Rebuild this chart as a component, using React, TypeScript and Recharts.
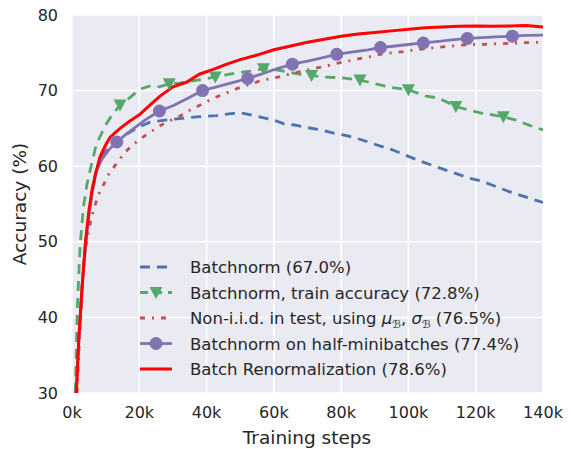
import React from 'react';
import { LineChart, Line, XAxis, YAxis, CartesianGrid, Legend } from 'recharts';

const xTicks = [0, 20, 40, 60, 80, 100, 120, 140];
const yTicks = [30, 40, 50, 60, 70, 80];

// Batch Renormalization (red solid)
const renormX = [1.3, 2, 3, 4, 5, 6, 7, 8.3, 10, 11.3, 13, 14.3, 17, 20, 23, 26, 30, 34, 38, 42, 46, 50, 55, 60, 65, 70, 75, 80, 85, 90, 95, 100, 105, 110, 115, 120, 125, 130, 135, 140];
const renormY = [30, 37, 44, 50, 54, 57, 59, 61.2, 62.8, 63.8, 64.5, 65, 65.9, 66.8, 68, 69.2, 70.5, 71.1, 72.2, 72.8, 73.5, 74.1, 74.7, 75.4, 75.9, 76.4, 76.8, 77.2, 77.5, 77.7, 77.9, 78.1, 78.3, 78.4, 78.5, 78.55, 78.5, 78.55, 78.6, 78.4];

// Batchnorm on half-minibatches (purple, circles)
const halfX = [1.2, 2, 3, 4, 5, 6, 7.3, 9, 11, 13.3, 16, 19, 22, 26, 30, 34, 38.8, 43, 48, 52.2, 57, 61, 65.5, 70, 74, 78.7, 83, 88, 91.7, 96, 100, 104.4, 109, 113, 117.5, 122, 126, 130.9, 135, 140];
const halfY = [30, 37, 44, 49.5, 53.5, 56.5, 59.5, 61, 62.2, 63.2, 64.2, 65.2, 66.2, 67.3, 68, 68.9, 70, 70.5, 71.1, 71.6, 72.3, 72.9, 73.5, 73.9, 74.3, 74.8, 75.1, 75.4, 75.7, 75.9, 76.1, 76.3, 76.5, 76.7, 76.9, 77.0, 77.1, 77.2, 77.3, 77.35];
const halfMarkers = [13.3, 26, 38.8, 52.2, 65.5, 78.7, 91.7, 104.4, 117.5, 130.9];

// Batchnorm (blue dashed)
const bnX = [1.2, 2, 3, 4, 5, 6, 7.3, 9, 11, 13.3, 16, 20, 23, 26, 30, 34, 38, 43, 48, 51, 54, 57, 60, 63, 66, 70, 74, 78, 82, 86, 90, 95, 100, 104, 108.4, 113, 118.3, 122, 126, 130.2, 135, 140];
const bnY = [30, 37, 44, 49.5, 53.5, 56.5, 59.5, 61.3, 62.5, 63.4, 64.2, 65.2, 65.8, 66.0, 66.2, 66.4, 66.55, 66.7, 67.0, 67.0, 66.7, 66.4, 66.1, 65.6, 65.45, 65.1, 64.8, 64.35, 64.0, 63.5, 62.9, 62.2, 61.3, 60.6, 59.9, 59.2, 58.4, 58.0, 57.3, 56.6, 55.9, 55.2];

// Batchnorm, train accuracy (green dashed, triangles)
const trainX = [1.0, 1.6, 2.4, 3.4, 4.4, 5.4, 7.3, 10.3, 12, 14.3, 17, 20.2, 23, 26, 28.9, 32, 36, 39, 42.6, 46, 50, 53, 56.9, 60, 64, 67, 71.2, 75, 80, 85.6, 90, 95, 100, 105, 109, 114.1, 118, 122, 125, 128.2, 132, 136, 140];
const trainY = [30, 41.4, 49.4, 54.6, 57.5, 59.5, 63, 65.7, 66.8, 68.1, 69, 70.2, 70.6, 70.5, 70.9, 71, 71.3, 71.5, 71.8, 72.1, 72.4, 72.6, 72.9, 72.8, 72.5, 72.2, 72.0, 71.8, 71.7, 71.4, 70.9, 70.4, 70.1, 69.3, 69.0, 67.9, 67.4, 67.0, 66.8, 66.55, 66.1, 65.4, 64.8];
const trainMarkers = [14.3, 28.9, 42.6, 56.9, 71.2, 85.6, 100, 114.1, 128.2];

// Non-i.i.d. in test (red dash-dot)
const niidX = [1.5, 2.2, 2.9, 3.4, 4.4, 5.8, 7.8, 9.3, 11, 13.3, 15.5, 17.7, 20, 22.7, 26, 28, 31.6, 35, 39, 42, 45, 48, 51.9, 56, 61.8, 64, 67.8, 72, 75, 78.7, 82, 85, 88.6, 91.6, 95, 98.5, 102, 105, 108.4, 112, 115, 118.3, 122, 126, 130.2, 135, 140];
const niidY = [30, 37, 42.6, 47, 50.2, 53.3, 56.2, 57.5, 59, 60.4, 61.7, 62.7, 63.5, 64.35, 65.3, 65.8, 66.5, 67.4, 68.3, 69, 69.5, 70.1, 70.7, 71.3, 71.85, 72.1, 72.5, 72.9, 73.2, 73.6, 73.9, 74.2, 74.5, 74.8, 75.0, 75.15, 75.4, 75.55, 75.7, 75.85, 76.0, 76.1, 76.1, 76.2, 76.25, 76.35, 76.4];

const C_BLUE = '#4C72B0';
const C_GREEN = '#55A868';
const C_DOT = '#C44E52';
const C_PURPLE = '#8172B2';
const C_RED = '#FF0000';
const TEXT = '#262626';
const FONT = 'DejaVu Sans';

const toData = (xs: number[], ys: number[], marks: number[] = []) =>
  xs.map((x, i) => ({ x, y: ys[i], m: marks.includes(x) }));

const renormData = toData(renormX, renormY);
const halfData = toData(halfX, halfY, halfMarkers);
const bnData = toData(bnX, bnY);
const trainData = toData(trainX, trainY, trainMarkers);
const niidData = toData(niidX, niidY);

const circleDot = (p: any) =>
  p.payload && p.payload.m ? (
    <circle key={`c${p.index}`} cx={p.cx} cy={p.cy} r={6.5} fill={C_PURPLE} />
  ) : (
    <g key={`c${p.index}`} />
  );

const triPoints = (cx: number, cy: number) =>
  `${cx - 6.5},${cy - 5.5} ${cx + 6.5},${cy - 5.5} ${cx},${cy + 6.5}`;

const triDot = (p: any) =>
  p.payload && p.payload.m ? (
    <polygon key={`t${p.index}`} points={triPoints(p.cx, p.cy)} fill={C_GREEN} />
  ) : (
    <g key={`t${p.index}`} />
  );

const legendRows = [
  { color: C_BLUE, dash: '10 7', marker: 'none' },
  { color: C_GREEN, dash: '8 6', marker: 'tri' },
  { color: C_DOT, dash: '5 7 2 7', marker: 'none' },
  { color: C_PURPLE, dash: undefined, marker: 'circle' },
  { color: C_RED, dash: undefined, marker: 'none' },
];

const renderLegend = () => {
  const ys = [267, 292.5, 318, 343.5, 369];
  return (
    <svg width={571} height={449} style={{ position: 'absolute', left: 0, top: 0 }}>
      {legendRows.map((r, i) => (
        <g key={i}>
          <line x1={140} x2={172} y1={ys[i]} y2={ys[i]} stroke={r.color} strokeWidth={r.color === C_RED ? 3 : 2.8} strokeDasharray={r.dash} />
          {r.marker === 'circle' && <circle cx={156} cy={ys[i]} r={6.5} fill={r.color} />}
          {r.marker === 'tri' && <polygon points={triPoints(156, ys[i])} fill={r.color} />}
        </g>
      ))}
      <g fontFamily={FONT} fontSize={16.5} fill={TEXT}>
        <text x={190} y={ys[0] + 6}>Batchnorm (67.0%)</text>
        <text x={190} y={ys[1] + 6}>Batchnorm, train accuracy (72.8%)</text>
        <text x={190} y={ys[2] + 6}>
          Non-i.i.d. in test, using{' '}
          <tspan fontStyle="italic">μ</tspan>
          <tspan fontSize={11} dy={4} fontStyle="italic">ℬ</tspan>
          <tspan dy={-4}>, </tspan>
          <tspan fontStyle="italic">σ</tspan>
          <tspan fontSize={11} dy={4} fontStyle="italic">ℬ</tspan>
          <tspan dy={-4}> (76.5%)</tspan>
        </text>
        <text x={190} y={ys[3] + 6}>Batchnorm on half-minibatches (77.4%)</text>
        <text x={190} y={ys[4] + 6}>Batch Renormalization (78.6%)</text>
      </g>
      <text x={307} y={444} textAnchor="middle" fill={TEXT} fontSize={18.5} fontFamily={FONT}>
        Training steps
      </text>
      <text x={26} y={204} textAnchor="middle" fill={TEXT} fontSize={18.5} fontFamily={FONT} transform="rotate(-90, 26, 204)">
        Accuracy (%)
      </text>
    </svg>
  );
};

export default function App() {
  return (
    <div style={{ position: 'absolute', left: 0, top: 0, width: 571, height: 449, background: '#fff' }}>
      <LineChart width={571} height={449} margin={{ top: 15, right: 28, bottom: 0, left: 0 }}>
        <CartesianGrid fill="#EAEAF2" stroke="#FFFFFF" strokeWidth={1.5} horizontalValues={yTicks} verticalValues={xTicks} />
        <XAxis
          type="number"
          dataKey="x"
          domain={[0, 140]}
          ticks={xTicks}
          allowDataOverflow
          interval={0}
          height={56}
          axisLine={false}
          tickLine={false}
          tickSize={0}
          tickMargin={14}
          tickFormatter={(v: number) => `${v}k`}
          tick={{ fill: TEXT, fontSize: 16, fontFamily: FONT }}
        />
        <YAxis
          type="number"
          domain={[30, 80]}
          ticks={yTicks}
          allowDataOverflow
          interval={0}
          width={72}
          axisLine={false}
          tickLine={false}
          tickSize={0}
          tickMargin={14}
          tick={{ fill: TEXT, fontSize: 16, fontFamily: FONT }}
        />
        <Line data={bnData} dataKey="y" type="linear" stroke={C_BLUE} strokeWidth={2.8} strokeDasharray="10 7" dot={false} isAnimationActive={false} />
        <Line data={trainData} dataKey="y" type="linear" stroke={C_GREEN} strokeWidth={2.8} strokeDasharray="10 7" dot={triDot} isAnimationActive={false} />
        <Line data={niidData} dataKey="y" type="linear" stroke={C_DOT} strokeWidth={2.8} strokeDasharray="5 7 2 7" dot={false} isAnimationActive={false} />
        <Line data={halfData} dataKey="y" type="linear" stroke={C_PURPLE} strokeWidth={2.8} dot={circleDot} isAnimationActive={false} />
        <Line data={renormData} dataKey="y" type="linear" stroke={C_RED} strokeWidth={3} dot={false} isAnimationActive={false} />
        <Legend
          layout="vertical"
          align="center"
          verticalAlign="middle"
          wrapperStyle={{ position: 'absolute', left: 0, top: 0, width: 571, height: 449, pointerEvents: 'none' }}
          content={renderLegend}
        />
      </LineChart>
    </div>
  );
}
